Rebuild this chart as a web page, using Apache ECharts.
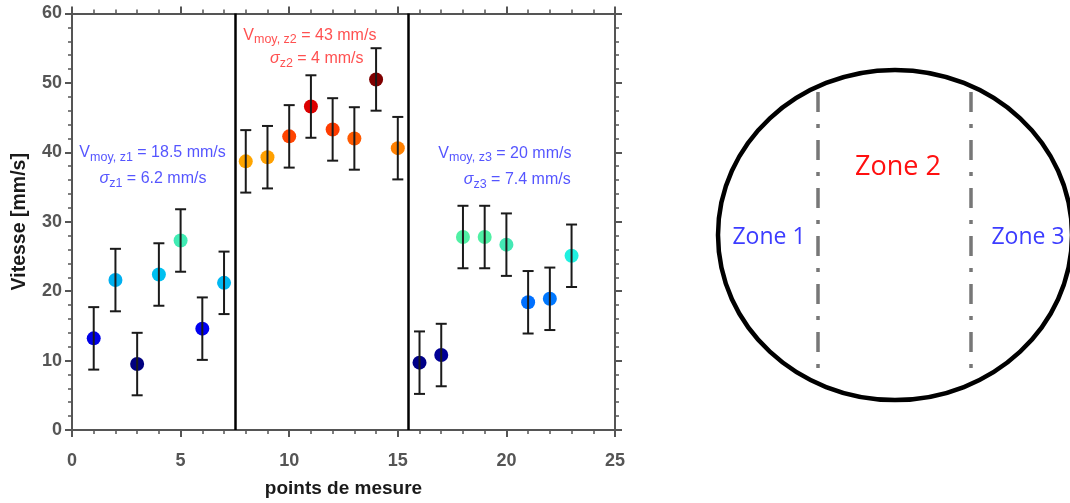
<!DOCTYPE html>
<html>
<head>
<meta charset="utf-8">
<script src="https://cdn.jsdelivr.net/npm/echarts@6/dist/echarts.min.js"></script>
<style>html,body{margin:0;padding:0;background:#fff;}#c{width:1070px;height:503px;}</style>
</head>
<body>
<div id="c"></div>
<script>
// ---- data ----
const pointIds = [1,2,3,4,5,6,7,8,9,10,11,12,13,14,15,16,17,18,19,20,21,22,23];
const speeds   = [13.2,21.6,9.5,22.4,27.3,14.6,21.2,38.7,39.3,42.3,46.6,43.3,42.0,50.5,40.6,9.7,10.8,27.8,27.8,26.7,18.4,18.9,25.1];
const errors   = [4.5,4.5,4.5,4.5,4.5,4.5,4.5,4.5,4.5,4.5,4.5,4.5,4.5,4.5,4.5,4.5,4.5,4.5,4.5,4.5,4.5,4.5,4.5];
const pointColors = ['#0000e6','#00b0f0','#00007f','#00c0f0','#40ecb4','#0000f0','#00b8f2',
  '#ffa500','#ffa000','#ff4400','#dc0000','#ff3c00','#ff5a00','#7f0000','#ff8000',
  '#000088','#000096','#50f0a4','#50f0a4','#44e8b4','#0070ff','#0078ff','#20f0e0'];
const zoneBounds = [7.5, 15.5];
const xAxisRange = [0, 25];
const yAxisRange = [0, 60];
const xTickStep = 5;
const yTickStep = 10;
const xAxisTitle = 'points de mesure';
const yAxisTitle = 'Vitesse [mm/s]';
const zoneStats = [
  {v: '18.5', s: '6.2', z: 'z1'},
  {v: '43',   s: '4',   z: 'z2'},
  {v: '20',   s: '7.4', z: 'z3'}
];
const zoneNames = ['Zone 1', 'Zone 2', 'Zone 3'];

const BLUE = '#2a2aff', RED = '#ff2424';
const axisGray = '#555555';

function richFor(color) {
  return {
    m: {fontSize: 16, lineHeight: 19, padding: [0,0,6,0], verticalAlign: 'top', color: color, fontFamily: 'Liberation Sans'},
    g: {fontSize: 16, lineHeight: 19, padding: [0,0,6,0], verticalAlign: 'top', color: color, fontStyle: 'italic', fontFamily: 'Liberation Sans'},
    s: {fontSize: 12.5, lineHeight: 19, verticalAlign: 'bottom', color: color, fontFamily: 'Liberation Sans'}
  };
}
function vText(st) { return '{m|V}{s|moy, ' + st.z + '}{m| = ' + st.v + ' mm/s}'; }
function sText(st) { return '{g|σ}{s|' + st.z + '}{m| = ' + st.s + ' mm/s}'; }

const annotColors = [BLUE, RED, BLUE];
const annotPos = [
  [[3.71, 39.74], [3.73, 35.95]],
  [[10.95, 56.63], [11.27, 53.27]],
  [[19.93, 39.67], [20.5, 35.85]]
];
const annotData = [];
zoneStats.forEach((st, i) => {
  annotData.push({value: annotPos[i][0], label: {formatter: vText(st), rich: richFor(annotColors[i])}});
  annotData.push({value: annotPos[i][1], label: {formatter: sText(st), rich: richFor(annotColors[i])}});
});

const chart = echarts.init(document.getElementById('c'));

const commonAxis = {
  axisLine: {show: true, onZero: false, lineStyle: {color: axisGray, width: 2}},
  axisTick: {show: true, inside: false, length: 7, lineStyle: {color: axisGray, width: 2}},
  minorTick: {show: true, splitNumber: 5, length: 4, lineStyle: {color: axisGray, width: 1.5}},
  splitLine: {show: false}
};

const option = {
  animation: false,
  backgroundColor: '#fff',
  grid: {left: 72, right: 455, top: 13.5, bottom: 70.3, containLabel: false},
  xAxis: [
    Object.assign({}, commonAxis, {
      type: 'value', min: xAxisRange[0], max: xAxisRange[1], interval: xTickStep, position: 'bottom',
      name: xAxisTitle, nameLocation: 'middle', nameGap: 49,
      nameTextStyle: {fontFamily: 'Liberation Sans', fontWeight: 'bold', fontSize: 19, color: '#1a1a1a'},
      axisLabel: {margin: 22, fontFamily: 'Liberation Sans', fontWeight: 'bold', fontSize: 18, color: axisGray}
    }),
    Object.assign({}, commonAxis, {
      type: 'value', min: xAxisRange[0], max: xAxisRange[1], interval: xTickStep, position: 'top',
      axisLabel: {show: false}
    })
  ],
  yAxis: [
    Object.assign({}, commonAxis, {
      type: 'value', min: yAxisRange[0], max: yAxisRange[1], interval: yTickStep, position: 'left',
      name: yAxisTitle, nameLocation: 'middle', nameGap: 42,
      nameTextStyle: {fontFamily: 'Liberation Sans', fontWeight: 'bold', fontSize: 19.5, color: '#1a1a1a'},
      axisLabel: {margin: 10, fontFamily: 'Liberation Sans', fontWeight: 'bold', fontSize: 18, color: axisGray}
    }),
    Object.assign({}, commonAxis, {
      type: 'value', min: yAxisRange[0], max: yAxisRange[1], interval: yTickStep, position: 'right',
      axisLabel: {show: false}
    })
  ],
  series: [
    {
      type: 'scatter',
      name: 'points',
      symbolSize: 14,
      data: pointIds.map((x, i) => [x, speeds[i]]),
      itemStyle: {color: (p) => pointColors[p.dataIndex], opacity: 1},
      z: 3,
      markLine: {
        silent: true, symbol: 'none', label: {show: false},
        lineStyle: {color: '#000', width: 2.5, type: 'solid'},
        data: zoneBounds.map(b => ({xAxis: b}))
      }
    },
    {
      type: 'custom',
      name: 'errors',
      data: pointIds.map((x, i) => [x, speeds[i], errors[i]]),
      z: 4,
      renderItem: function (params, api) {
        const x = api.value(0), y = api.value(1), e = api.value(2);
        const top = api.coord([x, y + e]);
        const bot = api.coord([x, y - e]);
        const h = 5.5;
        const st = {stroke: '#1a1a1a', lineWidth: 2};
        return {
          type: 'group',
          children: [
            {type: 'line', shape: {x1: top[0], y1: top[1], x2: bot[0], y2: bot[1]}, style: st},
            {type: 'line', shape: {x1: top[0] - h, y1: top[1], x2: top[0] + h, y2: top[1]}, style: st},
            {type: 'line', shape: {x1: bot[0] - h, y1: bot[1], x2: bot[0] + h, y2: bot[1]}, style: st}
          ]
        };
      }
    },
    {
      type: 'scatter',
      name: 'annotations',
      symbolSize: 1,
      itemStyle: {color: 'rgba(0,0,0,0)'},
      z: 5,
      label: {show: true, position: 'inside', align: 'center', verticalAlign: 'middle'},
      data: annotData
    }
  ],
  graphic: [
    {type: 'ellipse', shape: {cx: 895, cy: 235, rx: 177, ry: 165}, style: {fill: 'none', stroke: '#000', lineWidth: 4.5}},
    {type: 'line', shape: {x1: 818, y1: 92, x2: 818, y2: 378}, style: {stroke: '#777', lineWidth: 3.5, lineDash: [20, 12, 4, 12]}},
    {type: 'line', shape: {x1: 971, y1: 92, x2: 971, y2: 378}, style: {stroke: '#777', lineWidth: 3.5, lineDash: [20, 12, 4, 12]}},
    {type: 'text', x: 769, y: 237, style: {text: zoneNames[0], fill: '#3c3cff', font: '23px "Open Sans"', align: 'center', verticalAlign: 'middle'}},
    {type: 'text', x: 898, y: 167, style: {text: zoneNames[1], fill: '#ff1010', font: '27px "Open Sans"', align: 'center', verticalAlign: 'middle'}},
    {type: 'text', x: 1028, y: 237, style: {text: zoneNames[2], fill: '#3c3cff', font: '23px "Open Sans"', align: 'center', verticalAlign: 'middle'}}
  ]
};
chart.setOption(option);
</script>
</body>
</html>
